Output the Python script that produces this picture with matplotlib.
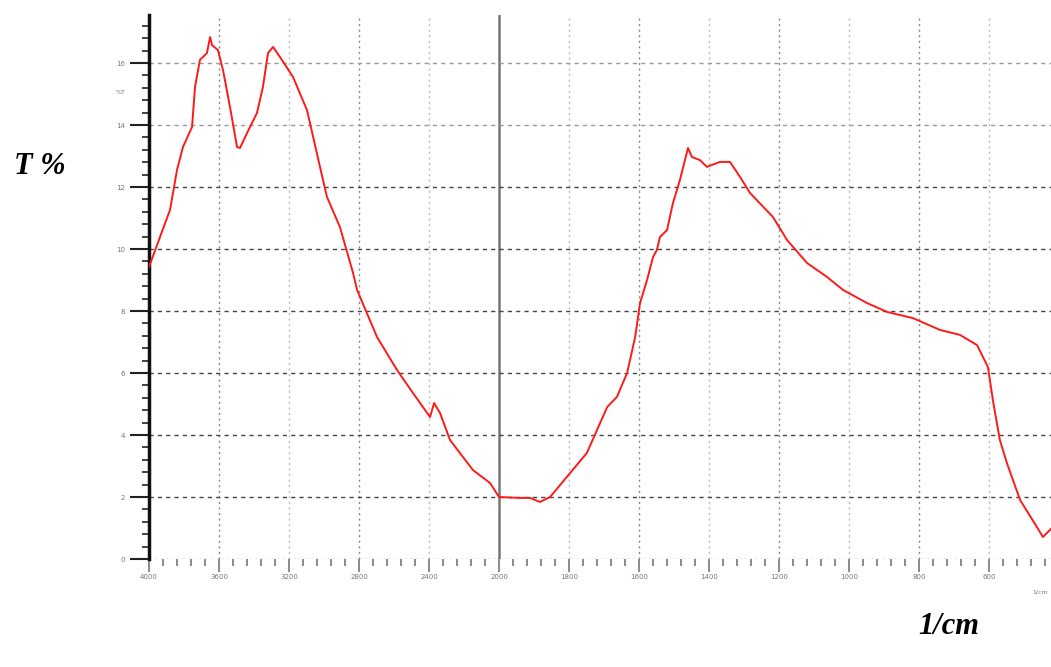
import numpy as np
import matplotlib
matplotlib.use("Agg")
import matplotlib.pyplot as plt
from matplotlib.ticker import FixedLocator, NullFormatter

# ---- data ----
wavenumber = [4000, 3937, 3880, 3840, 3806, 3754, 3737, 3709, 3669, 3651, 3640, 3606,
              3577, 3537, 3497, 3480, 3440, 3383, 3349, 3320, 3291, 3251, 3177, 3097,
              3023, 2983, 2909, 2834, 2811, 2697, 2583, 2491, 2394, 2371, 2337, 2280,
              2149, 2051, 2000, 1940, 1911, 1883, 1854, 1806, 1749, 1720, 1691, 1663,
              1634, 1611, 1597, 1577, 1560, 1549, 1540, 1520, 1503, 1483, 1460, 1449,
              1426, 1406, 1369, 1340, 1311, 1283, 1217, 1177, 1120, 1063, 1017, 949,
              891, 817, 740, 683, 634, 603, 589, 569, 549, 511, 463, 446, 423]
transmittance = [9.42, 10.39, 11.26, 12.55, 13.29, 13.94, 15.23, 16.10, 16.32, 16.84, 16.58, 16.42,
                 15.77, 14.58, 13.29, 13.26, 13.74, 14.39, 15.23, 16.32, 16.52, 16.19, 15.55, 14.48,
                 12.65, 11.68, 10.71, 9.23, 8.68, 7.16, 6.10, 5.35, 4.58, 5.03, 4.71, 3.84,
                 2.87, 2.45, 2.00, 1.97, 1.97, 1.84, 2.00, 2.65, 3.42, 4.16, 4.90, 5.23,
                 6.00, 7.16, 8.26, 9.00, 9.74, 9.97, 10.39, 10.61, 11.48, 12.23, 13.26, 12.97,
                 12.87, 12.65, 12.81, 12.81, 12.32, 11.81, 11.03, 10.29, 9.55, 9.10, 8.68, 8.26,
                 7.97, 7.77, 7.39, 7.23, 6.90, 6.19, 5.13, 3.84, 3.10, 1.90, 1.03, 0.71, 0.97]
x_ticks = [4000, 3600, 3200, 2800, 2400, 2000, 1800, 1600, 1400, 1200, 1000, 800, 600, 400]
y_ticks = [0, 2, 4, 6, 8, 10, 12, 14, 16]


def fwd(w):
    # increasing in w: 400 cm-1 per unit above 2000, 200 cm-1 per unit below
    w = np.asarray(w, dtype=float)
    return np.where(w >= 2000, (w - 4000) / 400.0, (w - 2000) / 200.0 - 5)


def inv(q):
    q = np.asarray(q, dtype=float)
    return np.where(q >= -5, 4000 + 400 * q, 2000 + 200 * (q + 5))


W, H = 1051, 667
fig = plt.figure(figsize=(W / 100, H / 100), dpi=100)
x0, x1 = 149, 1059
y0, y1 = 559, 15
ax = fig.add_axes([x0 / W, (H - y0) / H, (x1 - x0) / W, (y0 - y1) / H])
ax.set_xscale('function', functions=(fwd, inv))
ax.set_xlim(4000, 400)
ax.set_ylim(0, 17.55)

# grid
for i, t in enumerate(x_ticks[1:-1]):
    if t == 2000:
        ax.axvline(t, color='#777777', lw=1.8, zorder=1)
    else:
        col = '#888888' if i % 2 == 0 else '#bbbbbb'
        ax.axvline(t, color=col, lw=1.0, ls=(0, (1.5, 2.5)), zorder=1)
for t in y_ticks:
    if t == 0:
        ax.axhline(t, color='#999999', lw=1.0, ls=(0, (1.5, 2.5)), zorder=1)
    elif t >= 14:
        ax.axhline(t, color='#999999', lw=1.0, ls=(0, (3, 3)), zorder=1)
    else:
        ax.axhline(t, color='#444444', lw=1.0, ls=(0, (3, 3)), zorder=1)

ax.plot(wavenumber, transmittance, color='#ff1a1a', lw=1.4, zorder=3)

# spines
for s in ['top', 'right', 'bottom']:
    ax.spines[s].set_visible(False)
ax.spines['left'].set_linewidth(2.5)
ax.spines['left'].set_color('#111111')

# ticks
ax.xaxis.set_major_locator(FixedLocator(x_ticks))
minor_x = [w for w in range(4000, 2000, -80)] + [w for w in range(2000, 399, -40)]
ax.xaxis.set_minor_locator(FixedLocator(minor_x))
ax.set_xticklabels([str(t) for t in x_ticks])
ax.tick_params(axis='x', which='major', direction='out', length=9, width=1.2,
               color='#777777', labelsize=5, labelcolor='#777777', pad=2)
ax.tick_params(axis='x', which='minor', direction='out', length=5, width=1.2, color='#777777')

ax.yaxis.set_major_locator(FixedLocator(y_ticks))
ax.yaxis.set_minor_locator(FixedLocator(list(np.arange(0, 17.6, 0.4))))
ax.yaxis.set_minor_formatter(NullFormatter())
ax.tick_params(axis='y', which='major', direction='out', length=14, width=1.5,
               color='#222222', labelsize=5, labelcolor='#777777', pad=3)
ax.tick_params(axis='y', which='minor', direction='out', length=5, width=1.2, color='#222222')

# small %T label and 1/cm under last tick
fig.text(121 / W, 1 - 93 / H, '%T', fontsize=4.5, color='#777777', ha='center', va='center')
fig.text(1040 / W, 1 - 592 / H, '1/cm', fontsize=4.5, color='#777777', ha='center', va='center')

# big axis labels
fig.text(40 / W, 1 - 167 / H, 'T %', fontsize=22, fontweight='bold', fontstyle='italic',
         family='Liberation Serif', ha='center', va='center')
fig.text(949 / W, 1 - 627 / H, '1/cm', fontsize=22, fontweight='bold', fontstyle='italic',
         family='Liberation Serif', ha='center', va='center')

fig.savefig('out.png', dpi=100)
